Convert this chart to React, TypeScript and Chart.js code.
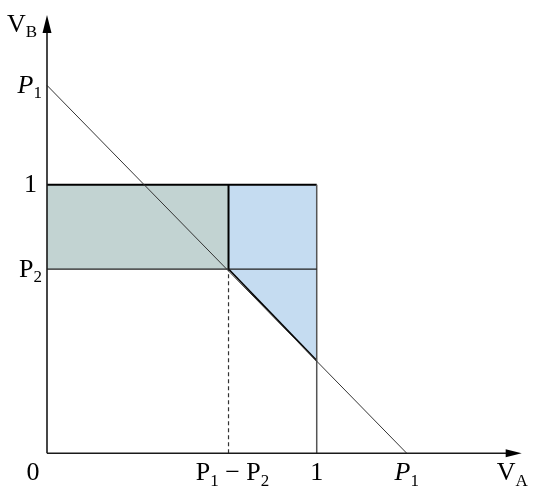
import React, { useEffect, useRef } from "react";
import { Chart, registerables } from "chart.js";

Chart.register(...registerables);

// Key values (data units)
const P1_ON_Y = 1.37; // where the budget line meets the V_B axis
const P1_ON_X = 1.334; // where the budget line meets the V_A axis
const P2 = 0.686;
const P1_MINUS_P2 = 0.673;
const LINE_AT_ONE = 0.345; // budget line height at V_A = 1

const xTickValues = [0, P1_MINUS_P2, 1, P1_ON_X];
const xTickLabels = ["0", "P_1 − P_2", "1", "P_1"];
const xTickItalic = [false, false, false, true];

const yTickValues = [P1_ON_Y, 1, P2];
const yTickLabels = ["P_1", "1", "P_2"];
const yTickItalic = [true, false, false];

const xAxisTitle = "V_A";
const yAxisTitle = "V_B";

const X_MAX = 1.76;
const Y_MAX = 1.632;

const FONT = '"Liberation Serif", "DejaVu Serif", serif';

function drawRich(
  ctx: CanvasRenderingContext2D,
  text: string,
  x: number,
  baseline: number,
  align: "left" | "center" | "right",
  italic: boolean,
  size: number
) {
  const segs: { t: string; sub: boolean }[] = [];
  for (let i = 0; i < text.length; i++) {
    if (text[i] === "_" && i + 1 < text.length) {
      segs.push({ t: text[i + 1], sub: true });
      i++;
    } else {
      const last = segs[segs.length - 1];
      if (last && !last.sub) last.t += text[i];
      else segs.push({ t: text[i], sub: false });
    }
  }
  const mainFont = `${italic ? "italic " : ""}${size}px ${FONT}`;
  const subSize = Math.round(size * 0.64);
  const subFont = `${subSize}px ${FONT}`;
  let total = 0;
  const widths: number[] = [];
  for (const s of segs) {
    ctx.font = s.sub ? subFont : mainFont;
    const w = ctx.measureText(s.t).width;
    widths.push(w);
    total += w;
  }
  let cx = x;
  if (align === "center") cx = x - total / 2;
  else if (align === "right") cx = x - total;
  ctx.textAlign = "left";
  ctx.textBaseline = "alphabetic";
  ctx.fillStyle = "#000";
  segs.forEach((s, i) => {
    ctx.font = s.sub ? subFont : mainFont;
    ctx.fillText(s.t, cx, s.sub ? baseline + size * 0.2 : baseline);
    cx += widths[i];
  });
}

const axesPlugin = {
  id: "axesAndLabels",
  afterDatasetsDraw(chart: any) {
    const ctx: CanvasRenderingContext2D = chart.ctx;
    const xs = chart.scales.x;
    const ys = chart.scales.y;
    const ox = xs.getPixelForValue(0);
    const oy = ys.getPixelForValue(0);
    const xEnd = xs.getPixelForValue(X_MAX);
    const yEnd = ys.getPixelForValue(Y_MAX);
    ctx.save();
    ctx.strokeStyle = "#1a1a1a";
    ctx.lineWidth = 1.6;
    ctx.beginPath();
    ctx.moveTo(ox, oy);
    ctx.lineTo(xEnd - 10, oy);
    ctx.moveTo(ox, oy);
    ctx.lineTo(ox, yEnd + 10);
    ctx.stroke();
    ctx.fillStyle = "#000";
    // x arrow
    ctx.beginPath();
    ctx.moveTo(xEnd, oy);
    ctx.lineTo(xEnd - 16, oy - 4);
    ctx.lineTo(xEnd - 16, oy + 4);
    ctx.closePath();
    ctx.fill();
    // y arrow
    ctx.beginPath();
    ctx.moveTo(ox, yEnd);
    ctx.lineTo(ox - 4.5, yEnd + 18);
    ctx.lineTo(ox + 4.5, yEnd + 18);
    ctx.closePath();
    ctx.fill();

    const size = 26;
    xTickValues.forEach((v, i) => {
      let px = xs.getPixelForValue(v);
      const lab = xTickLabels[i];
      if (v === 0) px -= 14;
      if (lab.includes("−")) px += 4;
      drawRich(ctx, lab, px, oy + 27, "center", xTickItalic[i], size);
    });
    yTickValues.forEach((v, i) => {
      const py = ys.getPixelForValue(v);
      const lab = yTickLabels[i];
      const right = ox - (lab === "1" ? 10 : 5);
      drawRich(ctx, lab, right, py + 7.5, "right", yTickItalic[i], size);
    });
    drawRich(ctx, xAxisTitle, xEnd - 25, oy + 27, "left", false, size);
    drawRich(ctx, yAxisTitle, ox - 40, yEnd + 17, "left", false, size);
    ctx.restore();
  },
};

function seg(points: [number, number][], color: string, width: number, dash: number[] = []) {
  return {
    data: points.map(([x, y]) => ({ x, y })),
    showLine: true,
    borderColor: color,
    borderWidth: width,
    borderDash: dash,
    pointRadius: 0,
    fill: false,
    tension: 0,
    order: 1,
    clip: false as any,
  };
}

export default function App() {
  const ref = useRef<HTMLCanvasElement | null>(null);
  useEffect(() => {
    document.body.style.margin = "0";
    if (!ref.current) return;
    const chart = new Chart(ref.current, {
      type: "scatter",
      data: {
        datasets: [
          seg([[0, P1_ON_Y], [P1_ON_X, 0]], "#333333", 1),
          seg([[0, P2], [1, P2]], "#1f1f1f", 1.2),
          seg([[1, 0], [1, 1]], "#555555", 1.5),
          seg([[0, 1], [1, 1]], "#000000", 2),
          seg([[P1_MINUS_P2, P2], [P1_MINUS_P2, 1]], "#000000", 2),
          seg([[P1_MINUS_P2, P2], [1, LINE_AT_ONE]], "#000000", 1.6),
          seg([[P1_MINUS_P2, 0], [P1_MINUS_P2, P2]], "#333333", 1.2, [4, 3]),
          {
            data: [
              { x: 0, y: P2 },
              { x: P1_MINUS_P2, y: P2 },
              { x: P1_MINUS_P2, y: 1 },
              { x: 0, y: 1 },
              { x: 0, y: P2 },
            ],
            showLine: true,
            fill: "shape",
            backgroundColor: "#c2d3d2",
            borderWidth: 0,
            pointRadius: 0,
            tension: 0,
            order: 10,
          } as any,
          {
            data: [
              { x: P1_MINUS_P2, y: 1 },
              { x: 1, y: 1 },
              { x: 1, y: LINE_AT_ONE },
              { x: P1_MINUS_P2, y: P2 },
              { x: P1_MINUS_P2, y: 1 },
            ],
            showLine: true,
            fill: "shape",
            backgroundColor: "#c5dcf1",
            borderWidth: 0,
            pointRadius: 0,
            tension: 0,
            order: 10,
          } as any,
        ],
      },
      options: {
        animation: false,
        responsive: true,
        maintainAspectRatio: false,
        layout: { padding: { left: 47, right: 13.3, top: 15, bottom: 40.7 } },
        plugins: { legend: { display: false }, tooltip: { enabled: false } },
        scales: {
          x: { type: "linear", min: 0, max: X_MAX, display: false },
          y: { type: "linear", min: 0, max: Y_MAX, display: false },
        },
      },
      plugins: [axesPlugin],
    });
    return () => chart.destroy();
  }, []);
  return (
    <div style={{ position: "absolute", left: 0, top: 0, width: 535, height: 494, background: "#fff" }}>
      <canvas ref={ref} />
    </div>
  );
}
